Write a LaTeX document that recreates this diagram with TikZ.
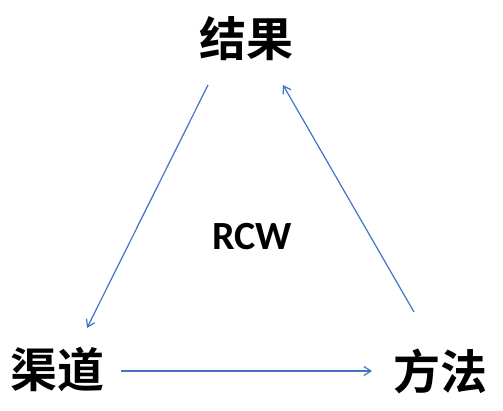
\documentclass[tikz,border=0pt]{standalone}
\usepackage{fontspec}
\newfontfamily\cjk{Noto Sans CJK SC}[BoldFont={Noto Sans CJK SC Bold}]
\newfontfamily\lat{Carlito}
\usetikzlibrary{arrows.meta}
\definecolor{linkblue}{RGB}{68,114,196}
\begin{document}
\begin{tikzpicture}[x=1pt,y=-1pt,
  cjklabel/.style={inner sep=0pt,font=\cjk\bfseries\fontsize{47}{50}\selectfont},
  link/.style={draw=linkblue,line width=1.2pt,-{Straight Barb[length=7pt,width=9pt,line width=1.2pt]}}]
\useasboundingbox[fill=white] (0,0) rectangle (503,411);
\node[cjklabel] (res) at (246,39) {结果};
\node[cjklabel] (chan) at (57,370) {渠道};
\node[cjklabel] (meth) at (440,371) {方法};
\node[inner sep=0pt,font=\lat\bfseries\fontsize{40}{44}\selectfont] (rcw) at (252,237) {RCW};
\coordinate (a1s) at (208,85);
\coordinate (a1e) at (87,328);
\coordinate (a2s) at (121,371);
\coordinate (a2e) at (372,371);
\coordinate (a3s) at (414,312);
\coordinate (a3e) at (283,85);
\draw[link] (a1s) -- (a1e);
\draw[link] (a2s) -- (a2e);
\draw[link] (a3s) -- (a3e);
\end{tikzpicture}
\end{document}
